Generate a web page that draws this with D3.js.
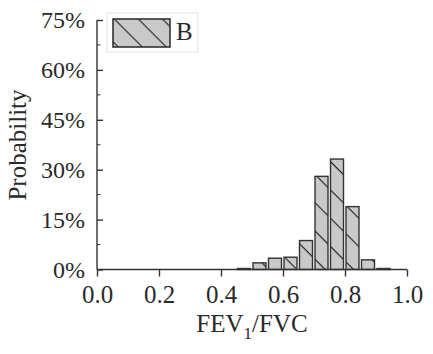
<!DOCTYPE html>
<meta charset="utf-8" />
<style>
  body { margin: 0; background: #fff; }
  text { font-family: "Liberation Serif", "Times New Roman", serif; fill: #2a2a2a; }
</style>
<body>
  <script src="https://d3js.org/d3.v7.min.js"></script>
  <script>
    // histogram bins (left edge) and probability in %
    const binStarts = [0.45, 0.50, 0.55, 0.60, 0.65, 0.70, 0.75, 0.80, 0.85, 0.90];
    const probs = [0.3, 2.0, 3.4, 3.7, 8.7, 28.0, 33.2, 18.9, 2.9, 0.3];
    const binWidth = 0.05;
    const xTicks = [0, 0.2, 0.4, 0.6, 0.8, 1.0];
    const yTicks = [0, 15, 30, 45, 60, 75];
    const yMinor = [7.5, 22.5, 37.5, 52.5, 67.5];
    const seriesName = "B";

    const W = 433, H = 354;
    const margin = { top: 20, right: 26, bottom: 84.5, left: 97 };

    const svg = d3.select("body").append("svg")
      .attr("width", W).attr("height", H);

    const x = d3.scaleLinear().domain([0, 1]).range([margin.left, W - margin.right]);
    const y = d3.scaleLinear().domain([0, 75]).range([H - margin.bottom, margin.top]);

    // hatch patterns
    const defs = svg.append("defs");
    function hatch(id, gap) {
      const p = defs.append("pattern")
        .attr("id", id)
        .attr("patternUnits", "userSpaceOnUse")
        .attr("width", 10).attr("height", gap)
        .attr("patternTransform", "rotate(45)");
      p.append("rect").attr("width", 10).attr("height", gap).attr("fill", "#c9c9c9");
      p.append("line").attr("x1", 0).attr("x2", 10).attr("y1", 0.5).attr("y2", 0.5)
        .attr("stroke", "#222").attr("stroke-width", 1.3);
    }
    hatch("hatchBars", 20);
    hatch("hatchLegend", 17);

    // bars
    svg.append("g")
      .selectAll("rect")
      .data(binStarts)
      .join("rect")
      .attr("x", (d) => x(d) + 1)
      .attr("width", (d) => x(d + binWidth) - x(d) - 2.5)
      .attr("y", (d, i) => y(probs[i]))
      .attr("height", (d, i) => y(0) - y(probs[i]))
      .attr("fill", "url(#hatchBars)")
      .attr("stroke", "#333")
      .attr("stroke-width", 1.4);

    // x axis
    const gx = svg.append("g")
      .attr("transform", "translate(0," + y(0) + ")")
      .call(d3.axisBottom(x).tickValues(xTicks).tickFormat(d3.format(".1f"))
        .tickSize(7).tickPadding(9));
    gx.selectAll("text").style("font-size", "25px");

    // y axis, ticks pointing inward
    const gy = svg.append("g")
      .attr("transform", "translate(" + x(0) + ",0)")
      .call(d3.axisLeft(y).tickValues(yTicks).tickFormat((d) => d + "%")
        .tickSize(-6).tickPadding(12));
    gy.selectAll("text").style("font-size", "24px");
    gy.append("g").selectAll("line")
      .data(yMinor)
      .join("line")
      .attr("x1", 0).attr("x2", 3.5)
      .attr("y1", (d) => y(d)).attr("y2", (d) => y(d))
      .attr("stroke", "#333");

    [gx, gy].forEach((g) => {
      g.select(".domain").attr("stroke", "#333").attr("stroke-width", 1.4);
      g.selectAll(".tick line").attr("stroke", "#333").attr("stroke-width", 1.4);
      g.selectAll("text").attr("fill", "#2a2a2a").attr("font-family", "Liberation Serif");
    });
    gy.select(".domain").attr("d", "M0," + y(75) + "V" + y(0));
    gx.select(".domain").attr("d", "M" + x(0) + ",0H" + x(1));

    // axis titles
    svg.append("text")
      .attr("transform", "translate(26,145) rotate(-90)")
      .attr("text-anchor", "middle")
      .style("font-size", "25px")
      .text("Probability");

    const xt = svg.append("text")
      .attr("x", (x(0) + x(1)) / 2)
      .attr("y", 332)
      .attr("text-anchor", "middle")
      .style("font-size", "25px");
    xt.append("tspan").text("FEV");
    xt.append("tspan").attr("dy", 7).style("font-size", "17px").text("1");
    xt.append("tspan").attr("dy", -7).text("/FVC");

    // legend
    const lg = svg.append("g");
    lg.append("rect")
      .attr("x", 107).attr("y", 13).attr("width", 91).attr("height", 39)
      .attr("fill", "#fff").attr("stroke", "#e2e2e2");
    lg.append("rect")
      .attr("x", 113).attr("y", 19).attr("width", 57).attr("height", 28)
      .attr("fill", "url(#hatchLegend)").attr("stroke", "#333").attr("stroke-width", 1.6);
    lg.append("text")
      .attr("x", 176).attr("y", 40)
      .style("font-size", "25px")
      .text(seriesName);
  </script>
</body>
